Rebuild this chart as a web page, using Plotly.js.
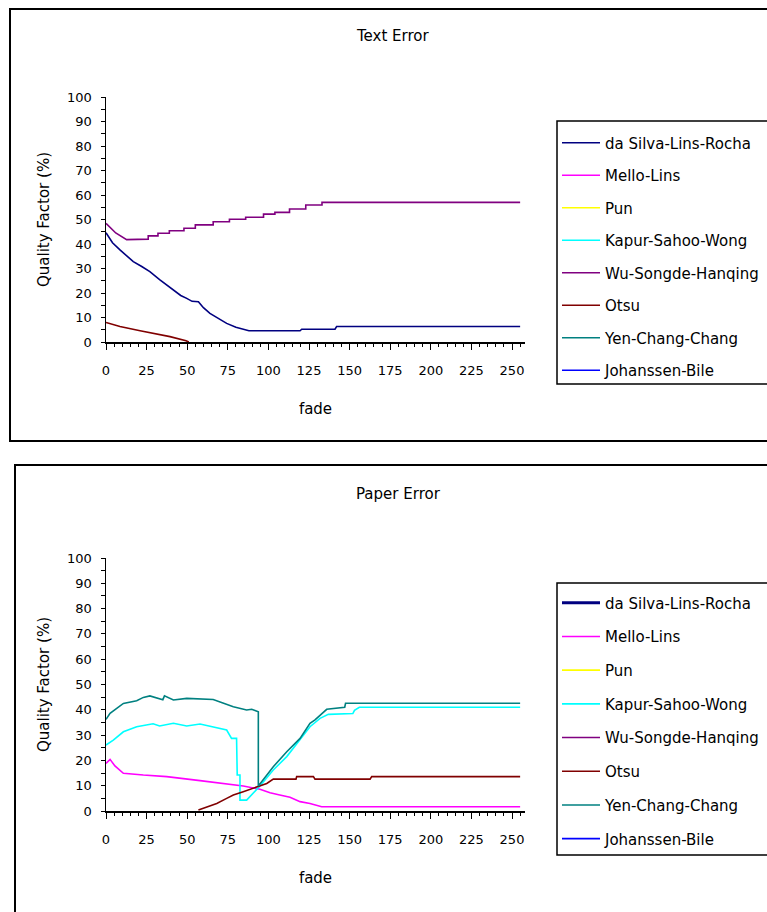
<!DOCTYPE html>
<html>
<head>
<meta charset="utf-8">
<script src="https://cdn.plot.ly/plotly-3.0.1.min.js"></script>
<style>html,body{margin:0;padding:0;background:#fff;}#chart{width:767px;height:912px;}</style>
</head>
<body>
<div id="chart"></div>
<script>
// ---------- Series names and colours ----------
const seriesNames = ["da Silva-Lins-Rocha","Mello-Lins","Pun","Kapur-Sahoo-Wong","Wu-Songde-Hanqing","Otsu","Yen-Chang-Chang","Johanssen-Bile"];
const seriesColors = ["#000080","#FF00FF","#FFFF00","#00FFFF","#800080","#800000","#008080","#0000FF"];
const xTicks = [0,25,50,75,100,125,150,175,200,225,250];

// ---------- Text Error (top chart) ----------
const textSilvaX = [0,4,8.6,16.8,22,27,33,40.4,46,49.7,53,56.9,60,64,70,74.3,80,85.6,88,119.5,120.5,141,142,255];
const textSilvaY = [44.6,40.5,37.6,32.8,30.8,28.7,25.5,21.6,19,17.8,16.6,16.4,14,11.7,9.3,7.6,6,4.8,4.6,4.6,5.2,5.2,6.3,6.3];
const textWuX = [0,6,12.7,26,26,32,32,39,39,48,48,55,55,66,66,76,76,86,86,97,97,104,104,113,113,123,123,133,133,255];
const textWuY = [48.4,44.5,41.8,42,43.3,43.3,44.4,44.4,45.4,45.4,46.4,46.4,47.8,47.8,49.1,49.1,50.1,50.1,50.9,50.9,52.2,52.2,52.9,52.9,54.3,54.3,55.9,55.9,57,57];
const textOtsuX = [0,8.6,21,31,39.4,49.3,51];
const textOtsuY = [8,6.3,4.6,3.3,2.2,0.5,0];

// ---------- Paper Error (bottom chart) ----------
const paperMelloX = [0,2.5,5.5,10.7,23,37.4,57.9,70.2,84.5,94.8,101,107,113.3,119.5,125.6,132.8,255];
const paperMelloY = [18.8,20.4,17.8,14.9,14.2,13.6,12,10.9,9.9,8.6,7.2,6.3,5.4,3.7,3.0,1.7,1.7];
const paperKapurX = [0,4.5,10.7,18.9,29,33,41.5,49.7,57.9,66,74.3,77.3,80.4,80.8,82.5,82.5,86.6,94.8,103,111.3,119.5,125.6,131.8,136.9,152,153,156,255];
const paperKapurY = [26.1,28,31.3,33.3,34.5,33.6,34.7,33.6,34.4,33.3,32,28.7,28.7,14.2,14.2,4.3,4.3,9.9,16.2,21.5,28,33.3,36.6,38.2,38.5,39.8,41,41];
const paperYenX = [0,2.5,10.7,18.9,23,27,35,36,41.5,49.7,66,70.2,78.4,86.6,89.7,93.8,93.8,103,111.3,119.5,125.6,128.7,135.9,147,147.5,255];
const paperYenY = [36.2,38.6,42.5,43.6,44.9,45.5,44,45.5,43.9,44.5,44.1,43.2,41.2,39.9,40.2,39.2,9.9,17.5,23.4,28.7,34.7,36,40.2,41,42.6,42.6];
const paperOtsuX = [56.9,62,68.2,74.3,78.4,84.5,92.8,99,103,117,117.4,127.7,128.7,162.6,163.6,255];
const paperOtsuY = [0.4,1.7,3.0,5.0,6.3,7.6,9.6,10.9,12.6,12.6,13.6,13.6,12.6,12.6,13.6,13.6];

// Series with no visible line in a panel (legend entry only)
const noLineX = [0];
const noLineY = [null];

const topData = {0:[textSilvaX,textSilvaY],4:[textWuX,textWuY],5:[textOtsuX,textOtsuY]};
const bottomData = {1:[paperMelloX,paperMelloY],3:[paperKapurX,paperKapurY],5:[paperOtsuX,paperOtsuY],6:[paperYenX,paperYenY]};

const traces = [];
seriesNames.forEach((n,i)=>{
  const d = topData[i] || [noLineX,noLineY];
  traces.push({type:'scatter',mode:'lines',name:n,x:d[0],y:d[1],xaxis:'x',yaxis:'y',
    line:{color:seriesColors[i],width:1.6},legend:'legend',legendgroup:'t'+i,hoverinfo:'skip'});
});
seriesNames.forEach((n,i)=>{
  const d = bottomData[i] || [noLineX,noLineY];
  traces.push({type:'scatter',mode:'lines',name:n,x:d[0],y:d[1],xaxis:'x2',yaxis:'y2',
    line:{color:seriesColors[i],width:(i===0?3.2:1.6)},legend:'legend2',legendgroup:'b'+i,hoverinfo:'skip'});
});

const W=767,H=912;
const px = v=>v/W, py = v=>1-v/H;
const tickFont = {family:'DejaVu Sans, Arial, sans-serif',size:13,color:'#000'};
const titleFont = {family:'DejaVu Sans, Arial, sans-serif',size:15,color:'#000'};

function xax(anchor){
  return {domain:[px(106),px(525)],anchor:anchor,range:[0,258],tickvals:xTicks,ticktext:xTicks.map(String),
    ticks:'outside',ticklen:6,tickwidth:1,tickcolor:'#000',showline:true,linecolor:'#000',linewidth:1.5,
    showgrid:false,zeroline:false,tickfont:tickFont,ticklabelstandoff:10,
    minor:{dtick:5,tick0:0,ticks:'outside',ticklen:3,tickcolor:'#000',showgrid:false},
    title:{text:'fade',font:titleFont,standoff:26},fixedrange:true};
}
function yax(anchor,dom){
  return {domain:dom,anchor:anchor,range:[0,100],dtick:10,tick0:0,
    ticks:'outside',ticklen:4,tickwidth:1,tickcolor:'#000',showline:true,linecolor:'#000',linewidth:1.5,
    showgrid:false,zeroline:false,tickfont:tickFont,ticklabelstandoff:6,
    minor:{dtick:5,tick0:0,ticks:'outside',ticklen:4,tickcolor:'#000',showgrid:false},
    title:{text:'Quality Factor (%)',font:titleFont,standoff:14},fixedrange:true};
}
function leg(yTop,gap){
  return {x:px(557),y:py(yTop),xanchor:'left',yanchor:'top',bgcolor:'rgba(0,0,0,0)',borderwidth:0,
    font:{family:'DejaVu Sans, Arial, sans-serif',size:15,color:'#000'},tracegroupgap:gap,itemwidth:38};
}

const layout = {
  width:W,height:H,margin:{l:0,r:0,t:0,b:0},paper_bgcolor:'#fff',plot_bgcolor:'#fff',
  showlegend:true,
  xaxis:xax('y'), yaxis:yax('x',[py(342),py(97)]),
  xaxis2:xax('y2'), yaxis2:yax('x2',[py(811),py(558)]),
  legend:leg(126.5,10), legend2:leg(586.5,11.2),
  annotations:[
    {text:'Text Error',x:px(393),y:py(36),xref:'paper',yref:'paper',xanchor:'center',yanchor:'middle',showarrow:false,font:titleFont},
    {text:'Paper Error',x:px(398),y:py(494),xref:'paper',yref:'paper',xanchor:'center',yanchor:'middle',showarrow:false,font:titleFont}
  ],
  shapes:[
    {type:'rect',xref:'paper',yref:'paper',x0:px(10),x1:1.05,y0:py(441),y1:py(9),line:{color:'#000',width:2}},
    {type:'rect',xref:'paper',yref:'paper',x0:px(15),x1:1.05,y0:-0.05,y1:py(465),line:{color:'#000',width:2}},
    {type:'rect',xref:'paper',yref:'paper',x0:px(557),x1:1.05,y0:py(384),y1:py(121),line:{color:'#000',width:1.5}},
    {type:'rect',xref:'paper',yref:'paper',x0:px(557),x1:1.05,y0:py(855),y1:py(583),line:{color:'#000',width:1.5}}
  ]
};
Plotly.newPlot('chart',traces,layout,{staticPlot:true,displayModeBar:false});
</script>
</body>
</html>
